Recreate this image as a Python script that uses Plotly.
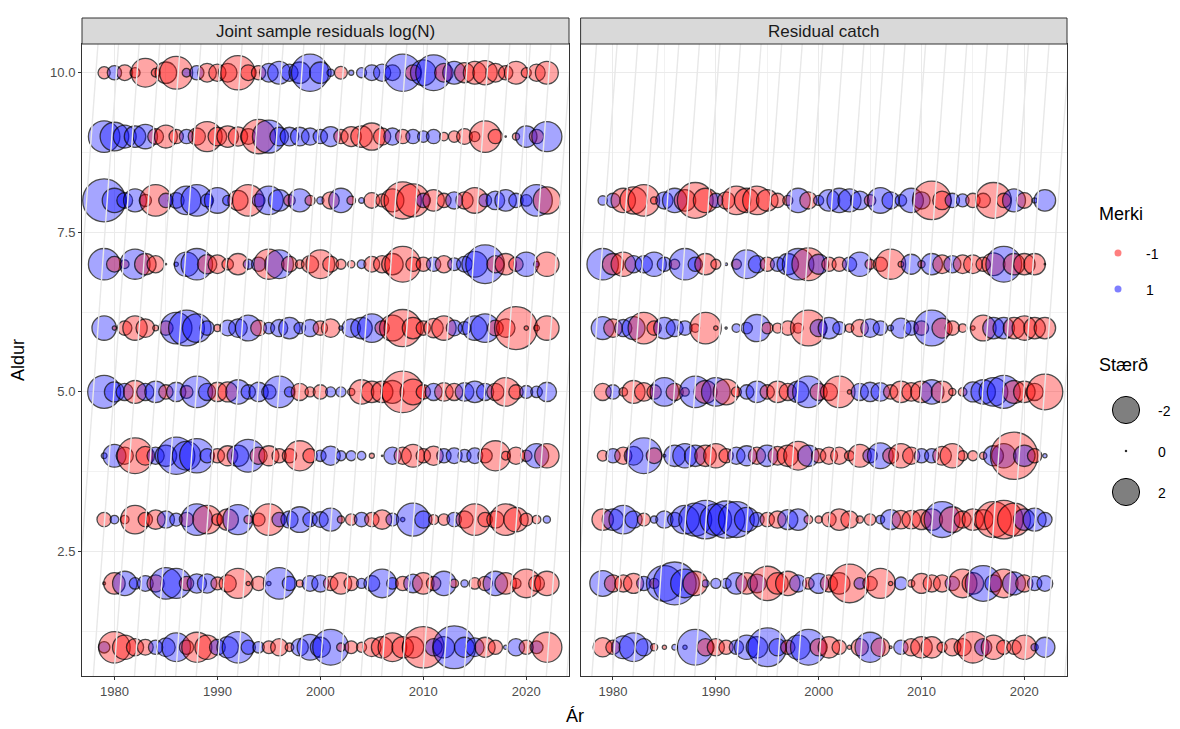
import plotly.graph_objects as go

years = list(range(1979, 2023))

# Joint sample residuals log(N), ages 1..10 (negative = red, positive = blue)
joint_a1 = [0.8,-2.2,-1.7,-1.2,-1.1,1.0,1.3,2.0,-1.0,-2.1, -1.7,1.1,1.5,2.2,1.0,0.8,-0.9,-1.2,-0.6,1.2,
            1.8,1.4,2.5,-0.6,-0.9,-0.7,-1.3,-1.5,-2.0,-1.5, -1.5,-2.9,1.2,1.5,3.0,1.4,1.3,-1.4,-1.0,0.3, 1.2,-1.0,0.9,-2.1]
joint_a2 = [-0.2,-1.5,1.7,0.8,1.1,-1.2,2.2,2.1,-1.0,1.35, 1.35,-0.9,-1.2,-2.1,-0.3,-1.0,0.3,2.2,1.0,-0.5,
            1.1,1.2,-1.0,-1.5,-1.0,0.7,1.1,2.0,0.8,-1.0, 1.3,-1.5,-1.0,1.7,-0.6,0.5,-0.8,-1.0,1.7,-1.5, -0.7,-2.0,-1.1,-1.7]
joint_a3 = [-1.0,0.6,-0.6,-2.0,-1.0,-1.35,1.2,0.9,-1.0,2.2, -2.0,-0.8,-1.5,2.1,-0.6,-0.9,-2.2,1.0,1.2,1.8,
            1.0,1.1,1.6,-0.5,-0.8,1.0,-1.0,-1.35,0.9,0.3, 2.3,1.2,-0.7,-0.8,1.0,-1.2,-2.2,-1.0,-1.2,-2.2, -1.7,-0.9,-0.6,0.5]
joint_a4 = [0.4,1.6,-1.2,-2.5,-1.3,1.2,1.5,2.6,2.0,2.4, 1.0,-1.0,-1.4,1.5,2.3,-1.2,-1.4,-1.0,-1.0,-2.1,
            -1.0,0.8,1.35,0.7,0.7,0.6,-0.35,0.1,1.2,-1.2, -1.6,-1.0,-1.35,1.0,1.1,0.9,1.1,-1.0,-2.1,-0.6, -1.2,-0.8,1.7,-1.7]
joint_a5 = [2.3,1.4,1.2,-1.6,1.2,1.5,-1.0,1.35,-0.9,2.2, 1.2,-1.35,-1.4,1.7,1.0,1.35,1.0,2.2,0.7,-1.2,
            -0.7,-1.0,0.7,0.7,-0.5,-1.7,-1.5,-1.5,-1.6,-2.9, -1.8,-1.0,1.2,-1.3,-1.2,1.3,1.5,1.2,-1.2,-2.0, -1.0,0.9,0.8,1.35]
joint_a6 = [1.7,-0.3,-1.0,-1.7,-1.3,-0.4,-1.0,2.2,2.5,2.0, 1.0,-0.5,1.1,1.3,1.8,-1.1,0.8,1.2,1.5,0.8,
            1.2,-1.0,-1.3,0.3,1.3,1.5,2.0,-1.0,-1.8,-2.6, -1.5,-1.0,-1.35,-1.7,1.1,0.9,1.7,2.0,-1.1,-1.3, -3.0,-0.3,-0.4,-1.7]
joint_a7 = [2.2,-1.1,-0.6,2.1,-1.5,-1.2,0.1,0.3,1.7,2.2, -1.35,-1.3,-0.8,-1.5,0.7,1.0,-2.1,2.0,-1.1,-0.6,
            -1.2,-2.0,-1.1,-0.7,-0.5,0.6,-1.1,-1.2,-1.5,-2.5, -1.0,-1.0,1.0,-1.2,0.9,1.1,1.8,2.7,-1.2,-1.5, -1.0,1.7,0.4,-1.7]
joint_a8 = [3.0,1.7,1.1,1.6,-0.85,-2.2,1.0,1.1,2.0,2.2, 0.9,1.8,0.7,-1.4,-2.2,0.9,2.0,1.5,-0.8,1.6,
            -0.7,0.5,-1.2,1.7,-0.6,0.4,-1.1,-0.9,-1.6,-2.6, -2.3,1.0,-1.5,-1.0,1.2,-1.2,-1.8,0.9,1.3,1.5, 1.0,0.8,2.2,-1.9]
joint_a9 = [2.2,2.0,1.6,1.5,1.7,-1.1,-1.6,-1.0,1.0,-1.2, -2.1,-1.3,-1.5,-1.35,-1.1,-2.4,2.3,1.3,1.3,1.3,
            1.2,1.0,1.4,-1.0,-1.4,-1.5,-1.9,-1.2,1.2,-1.0, 1.0,0.8,1.0,-0.6,-0.8,-1.1,-0.7,-2.2,-1.0,0.1, -0.5,1.5,-1.0,2.1]
joint_a10 = [-0.85,1.0,-1.1,-0.7,-2.0,-0.6,-1.5,-2.3,0.6,1.0, -1.3,-1.2,-1.3,-2.4,-1.1,-1.0,1.3,1.6,1.2,1.5,
             2.6,1.5,0.5,-0.9,0.35,0.7,1.1,1.2,1.1,2.6, -1.1,1.8,2.5,-1.3,1.6,-1.4,-1.6,-1.7,-1.3,-1.0, -1.6,-0.7,-1.2,-1.6]

# Residual catch, ages 1..8
catch_a1 = [-1.35,-1.0,1.6,2.0,1.2,-0.5,-0.3,0.4,0.3,2.5, -1.2,-1.2,-1.0,1.0,1.7,1.5,2.7,1.2,-1.0,1.7,
            2.5,-1.2,-1.5,-1.0,-0.3,-1.2,2.1,-1.3,-0.2,1.0, -1.2,-1.5,-1.5,-0.7,-1.2,-1.2,-2.2,1.2,-1.7,-1.0, -1.0,-1.7,0.5,1.4]
catch_a2 = [1.8,-1.2,-1.2,-1.4,1.0,-0.7,2.5,3.0,2.0,-1.7, 0.5,0.7,0.7,1.5,-1.5,1.3,-2.4,-1.5,-1.7,1.2,
            -0.8,1.4,-1.2,-1.5,-2.7,0.8,-1.0,-2.1,-0.3,0.9, -0.5,-1.4,-1.2,-1.2,1.0,-2.0,-1.5,2.5,1.2,-2.0, 1.6,-1.2,1.0,1.1]
catch_a3 = [-1.5,1.5,2.0,1.2,-0.9,0.5,1.2,1.0,2.0,2.3, 2.7,2.2,2.6,2.5,1.7,1.0,-1.0,-1.2,1.4,1.5,
            -0.6,-0.5,-1.0,-1.5,-1.2,-0.5,-0.8,0.6,1.4,-1.3, -1.3,-1.4,-1.5,2.5,-1.8,-1.2,-1.5,-1.4,-2.5,-2.7, -2.3,1.5,1.6,1.0]
catch_a4 = [-0.75,1.0,-1.2,1.3,2.5,-1.1,0.2,1.5,1.7,1.5, -1.5,-1.7,-1.0,1.2,1.4,-1.2,1.5,-1.3,-1.5,-2.0,
            1.5,-1.0,-1.2,-1.2,-0.7,-1.6,1.0,1.8,-1.1,-1.7, -1.2,1.0,1.0,-1.3,-1.7,-0.7,-0.7,-0.5,1.4,1.7, -3.3,1.5,-1.0,0.3]
catch_a5 = [-1.2,1.0,-0.6,-1.6,-1.3,-1.0,2.0,-1.2,-0.6,2.2, -1.6,2.0,-1.8,-0.7,1.0,1.5,-1.0,-1.5,-1.2,1.5,
            2.2,-1.2,-1.2,-2.2,-0.3,1.2,1.35,1.3,-1.0,-1.5, -1.3,-1.5,1.7,-1.5,-0.5,-0.6,1.4,1.7,2.0,2.3, -1.6,-1.5,-1.2,-2.5]
catch_a6 = [1.6,-1.3,1.2,1.6,-2.2,-1.0,1.5,1.2,1.0,-0.6, -2.2,-0.3,0.15,0.6,0.8,1.9,-0.8,-0.7,-1.0,-0.7,
            -2.5,1.2,1.5,0.9,-0.6,-1.2,1.3,1.0,0.4,1.4, 1.0,-1.0,2.5,-1.4,-1.0,-0.6,-0.3,-1.8,1.5,1.5, -1.5,-1.7,-1.5,-1.5]
catch_a7 = [2.2,-1.5,-1.7,1.2,1.2,1.7,1.0,-0.7,2.2,1.0, -1.5,-0.7,0.2,-0.7,2.0,1.2,-1.0,1.0,1.5,2.2,
            -2.3,1.4,-1.0,-1.0,1.0,1.7,-0.7,-1.0,-2.1,-0.4, 1.4,-0.5,1.5,-1.3,1.2,-1.3,-1.3,-1.0,-1.6,2.5, -1.5,-1.5,-1.5,0.1]
catch_a8 = [0.65,1.0,-1.7,-1.9,-2.2,-0.5,1.2,1.7,-1.5,-2.5, -1.7,1.0,-1.2,-2.0,-1.7,-2.0,-1.5,-1.0,-0.7,1.7,
            -1.2,0.7,1.5,1.7,1.6,1.3,-0.8,1.8,1.2,0.8, 1.7,1.2,-2.7,-1.3,1.0,0.9,-1.0,-1.0,-2.5,-1.0, 1.6,-1.1,0.35,1.5]

joint_rows = [joint_a1, joint_a2, joint_a3, joint_a4, joint_a5, joint_a6, joint_a7, joint_a8, joint_a9, joint_a10]
catch_rows = [catch_a1, catch_a2, catch_a3, catch_a4, catch_a5, catch_a6, catch_a7, catch_a8]
for r in joint_rows + catch_rows:
    assert len(r) == len(years), len(r)

# decorative diagonal reference lines (start year at age 0)
diag_starts = [1953.7 + 2 * i for i in range(42)]
DIAG_K = 0.45

panel_titles = ["Joint sample residuals log(N)", "Residual catch"]
x_ticks = [1980, 1990, 2000, 2010, 2020]
size_legend_vals = [-2, 0, 2]
sign_legend_vals = [-1, 1]

PX_PER_UNIT = 14.3
RED = "rgba(255,0,0,0.5)"
BLUE = "rgba(0,0,255,0.5)"
FONT = "Liberation Sans, Arial, sans-serif"

fig = go.Figure()


def add_panel(rows, xa, ya):
    xs, ys, sz, col = [], [], [], []
    for ai, row in enumerate(rows):
        for yr, v in zip(years, row):
            xs.append(yr)
            ys.append(ai + 1)
            sz.append(abs(v) * PX_PER_UNIT)
            col.append(RED if v < 0 else BLUE)
    fig.add_trace(go.Scatter(
        x=xs, y=ys, mode="markers", xaxis=xa, yaxis=ya, showlegend=False, hoverinfo="skip",
        marker=dict(size=sz, sizemode="diameter", color=col, symbol="circle",
                    line=dict(color="black", width=1.3))))
    lx, ly = [], []
    for c in diag_starts:
        lx += [c, c + DIAG_K * 12, None]
        ly += [0, 12, None]
    fig.add_trace(go.Scatter(x=lx, y=ly, mode="lines", xaxis=xa, yaxis=ya, showlegend=False,
                             hoverinfo="skip", line=dict(color="#E8E8E8", width=1.4)))


add_panel(joint_rows, "x", "y")
add_panel(catch_rows, "x2", "y2")

L, R, T, B = 82, 113, 44, 53
W, H = 1180, 729
PW, PH = W - L - R, H - T - B


def px_x(p):
    return (p - L) / PW


def px_y(p):
    return (H - B - p) / PH


dom1 = [0, px_x(569)]
dom2 = [px_x(580.6), 1]

axis_common = dict(range=[1976.85, 2024.15], tickmode="array", tickvals=x_ticks,
                   ticks="outside", ticklen=3, tickcolor="#333333", tickwidth=1,
                   showgrid=True, gridcolor="#EBEBEB", gridwidth=1,
                   minor=dict(tickmode="array", tickvals=[1985, 1995, 2005, 2015], showgrid=True,
                              gridcolor="#F2F2F2", gridwidth=0.6, ticks=""),
                   showline=True, mirror=True, linecolor="#333333", linewidth=1, zeroline=False,
                   tickfont=dict(family=FONT, size=13, color="#4D4D4D"))
yaxis_common = dict(range=[0.55, 10.45], tickmode="array", tickvals=[2.5, 5.0, 7.5, 10.0],
                    ticktext=["2.5", "5.0", "7.5", "10.0"],
                    ticks="outside", ticklen=3, tickcolor="#333333", tickwidth=1,
                    showgrid=True, gridcolor="#EBEBEB", gridwidth=1,
                    minor=dict(tickmode="array", tickvals=[1.25, 3.75, 6.25, 8.75], showgrid=True,
                               gridcolor="#F2F2F2", gridwidth=0.6, ticks=""),
                    showline=True, mirror=True, linecolor="#333333", linewidth=1, zeroline=False,
                    tickfont=dict(family=FONT, size=13, color="#4D4D4D"))

fig.update_layout(
    width=W, height=H,
    margin=dict(l=L, r=R, t=T, b=B),
    paper_bgcolor="white", plot_bgcolor="white",
    xaxis=dict(domain=dom1, anchor="y", **axis_common),
    xaxis2=dict(domain=dom2, anchor="y2", **axis_common),
    yaxis=dict(domain=[0, 1], anchor="x", **yaxis_common),
    yaxis2=dict(domain=[0, 1], anchor="x2", matches="y", **{**yaxis_common, "showticklabels": False, "ticks": ""}),
    showlegend=False,
)

shapes = []
annotations = []
strip_h = 26 / PH
for dom, title in zip([dom1, dom2], panel_titles):
    shapes.append(dict(type="rect", xref="paper", yref="paper", x0=dom[0], x1=dom[1], y0=1, y1=1 + strip_h,
                       fillcolor="#D9D9D9", line=dict(color="#333333", width=1), layer="above"))
    annotations.append(dict(xref="paper", yref="paper", x=(dom[0] + dom[1]) / 2, y=1 + strip_h / 2,
                            text=title, showarrow=False, xanchor="center", yanchor="middle",
                            font=dict(family=FONT, size=17, color="#1A1A1A")))

# axis titles
annotations.append(dict(xref="paper", yref="paper", x=px_x(18), y=0.5, text="Aldur", textangle=-90,
                        showarrow=False, xanchor="center", yanchor="middle",
                        font=dict(family=FONT, size=18, color="black")))
annotations.append(dict(xref="paper", yref="paper", x=px_x(574.5), y=px_y(716), text="Ár",
                        showarrow=False, xanchor="center", yanchor="middle",
                        font=dict(family=FONT, size=18, color="black")))

# legend: Merki
annotations.append(dict(xref="paper", yref="paper", x=px_x(1097), y=px_y(214), text="Merki",
                        showarrow=False, xanchor="left", yanchor="middle",
                        font=dict(family=FONT, size=18, color="black")))
for val, cy in zip(sign_legend_vals, [253, 289]):
    cx = px_x(1118)
    shapes.append(dict(type="circle", xref="paper", yref="paper", xsizemode="pixel", ysizemode="pixel",
                       xanchor=cx, yanchor=px_y(cy), x0=-3.5, x1=3.5, y0=-3.5, y1=3.5,
                       fillcolor=RED if val < 0 else BLUE, line=dict(width=0)))
    annotations.append(dict(xref="paper", yref="paper", x=px_x(1144), y=px_y(cy + 1), text=str(val),
                            showarrow=False, xanchor="left", yanchor="middle",
                            font=dict(family=FONT, size=14, color="black")))

# legend: Stærð
annotations.append(dict(xref="paper", yref="paper", x=px_x(1097), y=px_y(365), text="Stærð",
                        showarrow=False, xanchor="left", yanchor="middle",
                        font=dict(family=FONT, size=18, color="black")))
for val, cy in zip(size_legend_vals, [410, 451, 492]):
    r = max(abs(val) * 13.6 / 2, 0.8)
    cx = px_x(1126)
    shapes.append(dict(type="circle", xref="paper", yref="paper", xsizemode="pixel", ysizemode="pixel",
                       xanchor=cx, yanchor=px_y(cy), x0=-r, x1=r, y0=-r, y1=r,
                       fillcolor="rgba(0,0,0,0.5)", line=dict(color="black", width=1)))
    annotations.append(dict(xref="paper", yref="paper", x=px_x(1156), y=px_y(cy + 1), text=str(val),
                            showarrow=False, xanchor="left", yanchor="middle",
                            font=dict(family=FONT, size=14, color="black")))

fig.update_layout(shapes=shapes, annotations=annotations)
fig.write_html("out.html")
